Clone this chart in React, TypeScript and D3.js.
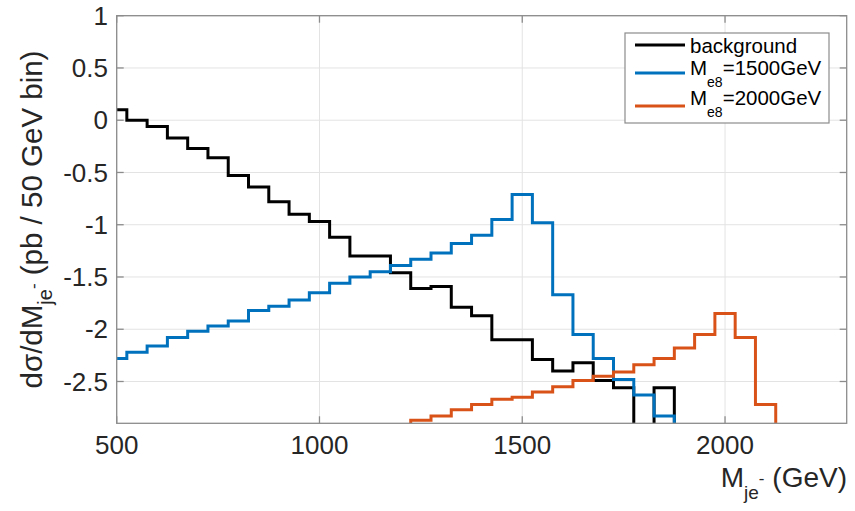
import React from "react";
import * as d3 from "d3";

// Bin centres (GeV), 50 GeV bins
const binCenters = [
  500, 550, 600, 650, 700, 750, 800, 850, 900, 950, 1000, 1050, 1100, 1150,
  1200, 1250, 1300, 1350, 1400, 1450, 1500, 1550, 1600, 1650, 1700, 1750,
  1800, 1850, 1900, 1950, 2000, 2050, 2100, 2150,
];

// log10 values; null = empty bin (off the bottom of the axes)
const background: (number | null)[] = [
  0.1, 0.0, -0.06, -0.17, -0.27, -0.36, -0.53, -0.64, -0.78, -0.9, -0.97,
  -1.12, -1.3, -1.3, -1.46, -1.61, -1.59, -1.79, -1.87, -2.1, -2.1, -2.29,
  -2.4, -2.32, -2.49, -2.56, null, -2.56, null, null, null, null, null, null,
];
const signal1500: (number | null)[] = [
  -2.28, -2.22, -2.16, -2.08, -2.02, -1.97, -1.92, -1.82, -1.78, -1.72, -1.65,
  -1.56, -1.5, -1.45, -1.39, -1.33, -1.27, -1.18, -1.1, -0.95, -0.71, -0.98,
  -1.67, -2.05, -2.28, -2.48, -2.63, -2.83, null, null, null, null, null, null,
];
const signal2000: (number | null)[] = [
  null, null, null, null, null, null, null, null, null, null, null, null, null,
  null, null, -2.87, -2.83, -2.77, -2.72, -2.67, -2.65, -2.6, -2.55, -2.49,
  -2.45, -2.41, -2.34, -2.28, -2.18, -2.05, -1.85, -2.08, -2.72, null,
];

const xTicks = [500, 1000, 1500, 2000];
const yTicks = [-2.5, -2, -1.5, -1, -0.5, 0, 0.5, 1];
const yTickLabels = ["-2.5", "-2", "-1.5", "-1", "-0.5", "0", "0.5", "1"];

const seriesNames = ["background", "1500GeV", "2000GeV"];
const seriesColors = ["#000000", "#0072BD", "#D95319"];

const W = 855;
const H = 511;
const M = { left: 116.7, right: 846.7, top: 15.7, bottom: 423.3 };
const FONT = "'Liberation Sans', Arial, Helvetica, sans-serif";

export default function App() {
  const x = d3.scaleLinear().domain([500, 2300]).range([M.left, M.right]);
  const y = d3.scaleLinear().domain([-2.9, 1]).range([M.bottom, M.top]);
  const floor = -3.5;
  const half = 25;

  const line = d3
    .line<[number, number]>()
    .x((d) => x(d[0]))
    .y((d) => y(d[1]));

  const stepPath = (vals: (number | null)[]) => {
    const pts: [number, number][] = [];
    vals.forEach((v, i) => {
      const c = binCenters[i];
      const val = v == null ? floor : v;
      pts.push([c - half, val], [c + half, val]);
    });
    return line(pts) || "";
  };

  const series = [background, signal1500, signal2000];
  const tickLen = 7;
  const axisColor = "#8c8c8c";
  const gridColor = "#e3e3e3";

  const legendX = 625;
  const legendY = 33;
  const legendW = 204;
  const legendH = 90;
  const legendLineY = [45, 73, 106];

  return (
    <svg
      width={W}
      height={H}
      style={{ position: "absolute", left: 0, top: 0, background: "#fff" }}
      fontFamily={FONT}
    >
      <defs>
        <clipPath id="plotClip">
          <rect x={M.left} y={M.top} width={M.right - M.left} height={M.bottom - M.top} />
        </clipPath>
      </defs>
      <rect x={0} y={0} width={W} height={H} fill="#fff" />
      {/* grid */}
      {xTicks.map((t) => (
        <line key={"gx" + t} x1={x(t)} x2={x(t)} y1={M.top} y2={M.bottom} stroke={gridColor} strokeWidth={1} />
      ))}
      {yTicks.map((t) => (
        <line key={"gy" + t} x1={M.left} x2={M.right} y1={y(t)} y2={y(t)} stroke={gridColor} strokeWidth={1} />
      ))}
      {/* series */}
      <g clipPath="url(#plotClip)">
        {series.map((s, i) => (
          <path key={i} d={stepPath(s)} fill="none" stroke={seriesColors[i]} strokeWidth={3} strokeLinejoin="miter" />
        ))}
      </g>
      {/* axes box */}
      <rect x={M.left} y={M.top} width={M.right - M.left} height={M.bottom - M.top} fill="none" stroke={axisColor} strokeWidth={1.3} />
      {xTicks.map((t) => (
        <g key={"tx" + t}>
          <line x1={x(t)} x2={x(t)} y1={M.bottom} y2={M.bottom - tickLen} stroke={axisColor} strokeWidth={1.3} />
          <line x1={x(t)} x2={x(t)} y1={M.top} y2={M.top + tickLen} stroke={axisColor} strokeWidth={1.3} />
          <text x={x(t)} y={454} fontSize={26} textAnchor="middle" fill="#262626">
            {String(t)}
          </text>
        </g>
      ))}
      {yTicks.map((t, i) => (
        <g key={"ty" + t}>
          <line x1={M.left} x2={M.left + tickLen} y1={y(t)} y2={y(t)} stroke={axisColor} strokeWidth={1.3} />
          <line x1={M.right} x2={M.right - tickLen} y1={y(t)} y2={y(t)} stroke={axisColor} strokeWidth={1.3} />
          <text x={108} y={y(t)} dy="0.35em" fontSize={26} textAnchor="end" fill="#262626">
            {yTickLabels[i]}
          </text>
        </g>
      ))}
      {/* x label */}
      <text x={847} y={487} fontSize={28} textAnchor="end" fill="#262626">
        M
        <tspan fontSize={19} dy={12}>je</tspan>
        <tspan fontSize={17} dy={-15}>-</tspan>
        <tspan dy={3}> (GeV)</tspan>
      </text>
      {/* y label */}
      <text transform={`translate(42, ${(M.top + M.bottom) / 2}) rotate(-90)`} fontSize={29.5} textAnchor="middle" fill="#262626">
        dσ/dM
        <tspan fontSize={20} dy={10}>je</tspan>
        <tspan fontSize={17} dy={-13}>-</tspan>
        <tspan dy={3}> (pb / 50 GeV bin)</tspan>
      </text>
      {/* legend */}
      <rect x={legendX} y={legendY} width={legendW} height={legendH} fill="#fff" stroke={axisColor} strokeWidth={1.2} />
      {seriesNames.map((n, i) => (
        <g key={n}>
          <line x1={635} x2={685} y1={legendLineY[i]} y2={legendLineY[i]} stroke={seriesColors[i]} strokeWidth={3} />
          {i === 0 ? (
            <text x={690} y={53} fontSize={20.5} fill="#000">
              {n}
            </text>
          ) : (
            <text x={690} y={i === 1 ? 75 : 105} fontSize={20.5} fill="#000">
              M
              <tspan fontSize={14} dy={11.5}>e8</tspan>
              <tspan dy={-11.5}>={n}</tspan>
            </text>
          )}
        </g>
      ))}
    </svg>
  );
}
